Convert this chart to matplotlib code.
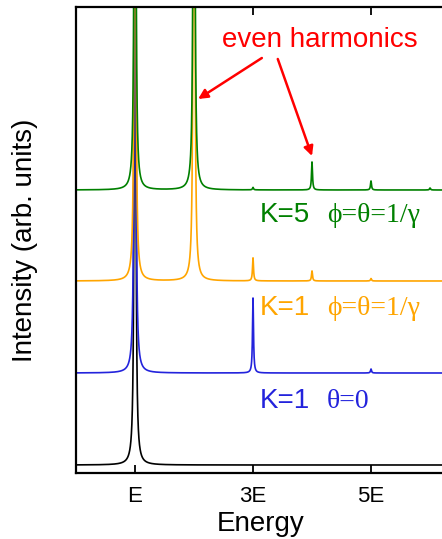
import numpy as np
import matplotlib
matplotlib.use("Agg")
import matplotlib.pyplot as plt

plt.rcParams['font.family'] = ['Liberation Sans', 'DejaVu Sans']

# Harmonic order of each spectral line (in units of the fundamental E)
harmonics = [1, 2, 3, 4, 5, 6]

# Peak heights per harmonic (arb. units); the tallest lines run off scale
black_peaks = [1200, 0, 0, 0, 0, 0]
blue_peaks = [1200, 0, 75, 0, 4, 0]
orange_peaks = [1200, 1200, 23, 10, 2.5, 0]
green_peaks = [1200, 1200, 2.5, 28, 9, 2]

# Vertical offsets used to stack the spectra
offsets = [8, 100, 192, 283]
colors = ['black', '#2323dc', 'orange', 'green']

tick_values = [1, 3, 5]
tick_labels = ['E', '3E', '5E']

line_width = 0.01  # Lorentzian half width, units of E


def spectrum(energy, heights):
    total = np.zeros_like(energy)
    for n, h in zip(harmonics, heights):
        total += h * line_width**2 / ((energy - n) ** 2 + line_width**2)
    return total


fig = plt.figure(figsize=(4.42, 5.39), dpi=100)
ax = fig.add_axes([76 / 442, 66 / 539, 369 / 442, 466 / 539])

energy = np.linspace(0, 6.3, 8000)
for peaks, off, col in zip([black_peaks, blue_peaks, orange_peaks, green_peaks],
                           offsets, colors):
    ax.plot(energy, spectrum(energy, peaks) + off, color=col, lw=1.2)

ax.set_xlim(0, 369 / 59)
ax.set_ylim(0, 466)

ax.set_xticks(tick_values)
ax.set_xticklabels(tick_labels, fontsize=16)
ax.set_yticks([])
ax.tick_params(axis='x', direction='in', length=6, width=1.3, top=True,
               labeltop=False, pad=9)
for side in ['left', 'bottom', 'top']:
    ax.spines[side].set_linewidth(1.6)
ax.spines['right'].set_visible(False)

ax.set_xlabel('Energy', fontsize=20, labelpad=3)
ax.set_ylabel('Intensity (arb. units)', fontsize=20, labelpad=27)

greek = ['Liberation Serif', 'DejaVu Serif']
labels = [
    ('K=5', '\u03d5=\u03b8=1/\u03b3', 251, 'green'),
    ('K=1', '\u03d5=\u03b8=1/\u03b3', 158, 'orange'),
    ('K=1', '\u03b8=0', 65, '#2323dc'),
]
for k_text, ang_text, ybase, col in labels:
    ax.text(3.12, ybase, k_text, color=col, fontsize=20, va='baseline')
    ax.text(4.25, ybase, ang_text, color=col, fontsize=20, va='baseline',
            family=greek)

ax.text(4.13, 426, 'even harmonics', color='red', fontsize=20,
        ha='center', va='baseline')
arrow = dict(arrowstyle='-|>', color='red', lw=1.8, mutation_scale=14,
             shrinkA=0, shrinkB=0)
ax.annotate('', xy=(2.07, 374), xytext=(3.15, 415), arrowprops=arrow)
ax.annotate('', xy=(4.0, 317), xytext=(3.42, 414), arrowprops=arrow)

fig.savefig('out.png', dpi=100)
